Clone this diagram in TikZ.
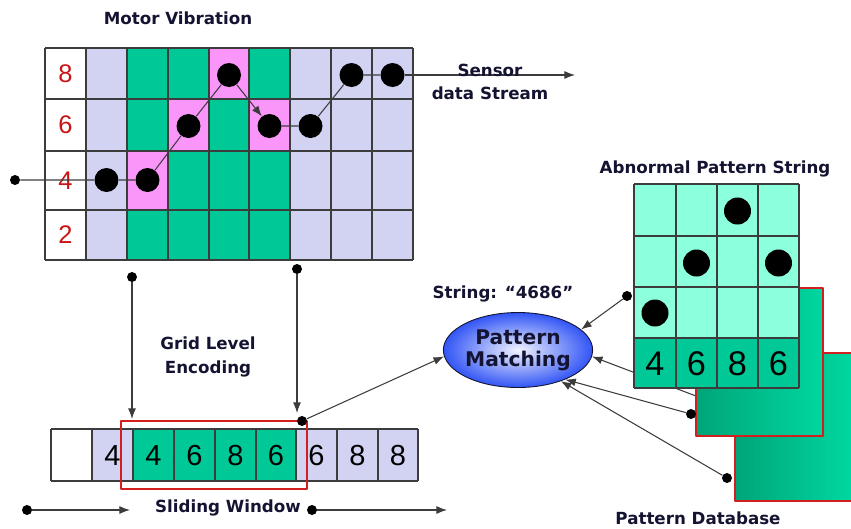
\documentclass[tikz,border=0pt]{standalone}
\usepackage{fontspec}
\setmainfont{DejaVu Sans}
\newfontfamily\digitfont{Liberation Sans}
\usetikzlibrary{arrows.meta,shapes.geometric}
\definecolor{cellLav}{RGB}{210,210,242}
\definecolor{cellGreen}{RGB}{0,200,150}
\definecolor{cellPink}{RGB}{250,150,250}
\definecolor{cellAqua}{RGB}{140,255,220}
\definecolor{numRed}{RGB}{200,20,20}
\definecolor{gridLine}{RGB}{60,60,60}
\definecolor{sheetDark}{RGB}{0,165,120}
\definecolor{sheetLight}{RGB}{0,215,160}
\definecolor{winRed}{RGB}{210,30,30}
\definecolor{ellBlue}{RGB}{50,85,245}
\definecolor{ellLight}{RGB}{242,244,255}
\definecolor{textNavy}{RGB}{20,20,50}
\tikzset{bigdot/.style={circle,fill=black,inner sep=0pt,minimum size=0.48cm},
 smalldot/.style={circle,fill=black,inner sep=0pt,minimum size=0.2cm},
 headtext/.style={font=\bfseries\fontsize{9.5}{13.5}\selectfont,align=center,text=textNavy},
 gridrule/.style={draw=gridLine,line width=0.7pt},
 link/.style={draw=gridLine,line width=0.6pt},
 linkarrow/.style={link,-{Latex[length=6pt,width=4.5pt]}},
 levelnum/.style={font=\digitfont\fontsize{14.5}{14.5}\selectfont,text=numRed},
 stripnum/.style={font=\digitfont\fontsize{16.5}{16.5}\selectfont},
 patnum/.style={font=\digitfont\fontsize{19.5}{19.5}\selectfont},
 matchell/.style={ellipse,draw=textNavy,line width=0.5pt,minimum width=2.86cm,minimum height=1.5cm,
   inner sep=0pt,inner color=ellLight,outer color=ellBlue,align=center,
   font=\bfseries\fontsize{11.5}{12.5}\selectfont,text=textNavy},
 every picture/.style={line join=round}}
\begin{document}
\begin{tikzpicture}[x=0.02cm,y=-0.02cm]
\useasboundingbox (0,0) rectangle (851,528);
% motor vibration grid
\fill[cellLav] (86,48) rectangle (127,260);
\fill[cellGreen] (127,48) rectangle (290,260);
\fill[cellLav] (290,48) rectangle (413,260);
\fill[cellPink] (127,151) rectangle (168,210);
\fill[cellPink] (168,99) rectangle (209,151);
\fill[cellPink] (249,99) rectangle (290,151);
\fill[cellPink] (209,48) rectangle (249,99);
\foreach \x in {45,86,127,168,209,249,290,331,372,413} \draw[gridrule] (\x,48) -- (\x,260);
\foreach \y in {48,99,151,210,260} \draw[gridrule] (45,\y) -- (413,\y);
\node[levelnum] (lv8) at (65.5,73.5) {8};
\node[levelnum] (lv6) at (65.5,125) {6};
\node[levelnum] (lv4) at (65.5,180.5) {4};
\node[levelnum] (lv2) at (65.5,235) {2};
\node[headtext] (title) at (178,18) {Motor Vibration};
% signal samples
\node[smalldot] (s0) at (15,180) {};
\node[bigdot] (d1) at (106.5,180) {};
\node[bigdot] (d2) at (147.5,180) {};
\node[bigdot] (d3) at (188.5,126) {};
\node[bigdot] (d4) at (229,75) {};
\node[bigdot] (d5) at (269.5,126) {};
\node[bigdot] (d6) at (310.5,126) {};
\node[bigdot] (d7) at (351.5,75) {};
\node[bigdot] (d8) at (392.5,75) {};
\coordinate (streamEnd) at (575,75);
\draw[link] (s0) -- (d1) -- (d2) -- (d3) -- (d4);
\draw[linkarrow] (d4) -- (d5);
\draw[link] (d5) -- (d6) -- (d7) -- (d8);
\draw[linkarrow] (d8) -- (streamEnd);
\node[headtext] (sensor) at (490,82) {Sensor\\data Stream};
% encoding
\node[smalldot] (p1) at (132,277) {};
\node[smalldot] (p2) at (297,269) {};
\coordinate (p1end) at (132,419);
\coordinate (p2end) at (297,413);
\draw[linkarrow] (p1) -- (p1end);
\draw[linkarrow] (p2) -- (p2end);
\node[headtext] (enc) at (208,357) {Grid Level\\Encoding};
% encoded string
\fill[cellLav] (92,429) rectangle (133,481);
\fill[cellGreen] (133,429) rectangle (296,481);
\fill[cellLav] (296,429) rectangle (418,481);
\foreach \x in {51,92,133,174,215,256,296,337,378,418} \draw[gridrule] (\x,429) -- (\x,481);
\foreach \y in {429,481} \draw[gridrule] (51,\y) -- (418,\y);
\foreach \x/\v [count=\i] in {112.5/4,153.5/4,194.5/6,235.5/8,276/6,316.5/6,357.5/8,398/8}
  \node[stripnum] (st\i) at (\x,456) {\v};
\draw[winRed,line width=0.8pt] (121,421) rectangle (307,489);
\node[smalldot] (p3) at (302,421) {};
\node[smalldot] (w1) at (27,510) {};
\coordinate (w1end) at (130,510);
\node[smalldot] (w2) at (312,510) {};
\coordinate (w2end) at (447,510);
\draw[linkarrow] (w1) -- (w1end);
\draw[linkarrow] (w2) -- (w2end);
\node[headtext] (slide) at (228,508) {Sliding Window};
% matching
\node[matchell] (pm) at (518,350) {Pattern\\Matching};
\node[headtext] (str) at (503,294) {String: “4686”};
\draw[linkarrow] (p3) -- (pm.185);
% pattern database
\fill[left color=sheetDark,right color=sheetLight] (735,353) rectangle (851,501);
\draw[winRed,line width=0.7pt] (851,353) -- (735,353) -- (735,501) -- (851,501);
\coordinate (q2) at (696,396);
\draw[linkarrow] (q2) -- (pm.-5);
\fill[left color=sheetDark,right color=sheetLight] (696,288) rectangle (823,436);
\draw[winRed,line width=0.7pt] (696,288) rectangle (823,436);
\fill[cellAqua] (634,184) rectangle (799,338);
\fill[cellGreen] (634,338) rectangle (799,388);
\foreach \x in {634,676,717,758,799} \draw[gridrule] (\x,184) -- (\x,388);
\foreach \y in {184,236,287,338,388} \draw[gridrule] (634,\y) -- (799,\y);
\node[bigdot,minimum size=0.54cm] (a1) at (737.5,211) {};
\node[bigdot,minimum size=0.54cm] (a2) at (696.5,263) {};
\node[bigdot,minimum size=0.54cm] (a3) at (778.5,263) {};
\node[bigdot,minimum size=0.54cm] (a4) at (655,313) {};
\foreach \x/\v [count=\i] in {655/4,696.5/6,737.5/8,778.5/6}
  \node[patnum] (pt\i) at (\x,364) {\v};
\node[headtext] (abn) at (715,169) {Abnormal Pattern String};
\node[smalldot] (q1) at (627,296) {};
\node[smalldot] (q3) at (691,414) {};
\node[smalldot] (q4) at (727,478) {};
\draw[linkarrow] (q1) -- (pm.18);
\draw[linkarrow] (q3) -- (pm.-32);
\draw[linkarrow] (q4) -- (pm.-36);
\node[headtext] (db) at (698,518) {Pattern Database};
\end{tikzpicture}
\end{document}
